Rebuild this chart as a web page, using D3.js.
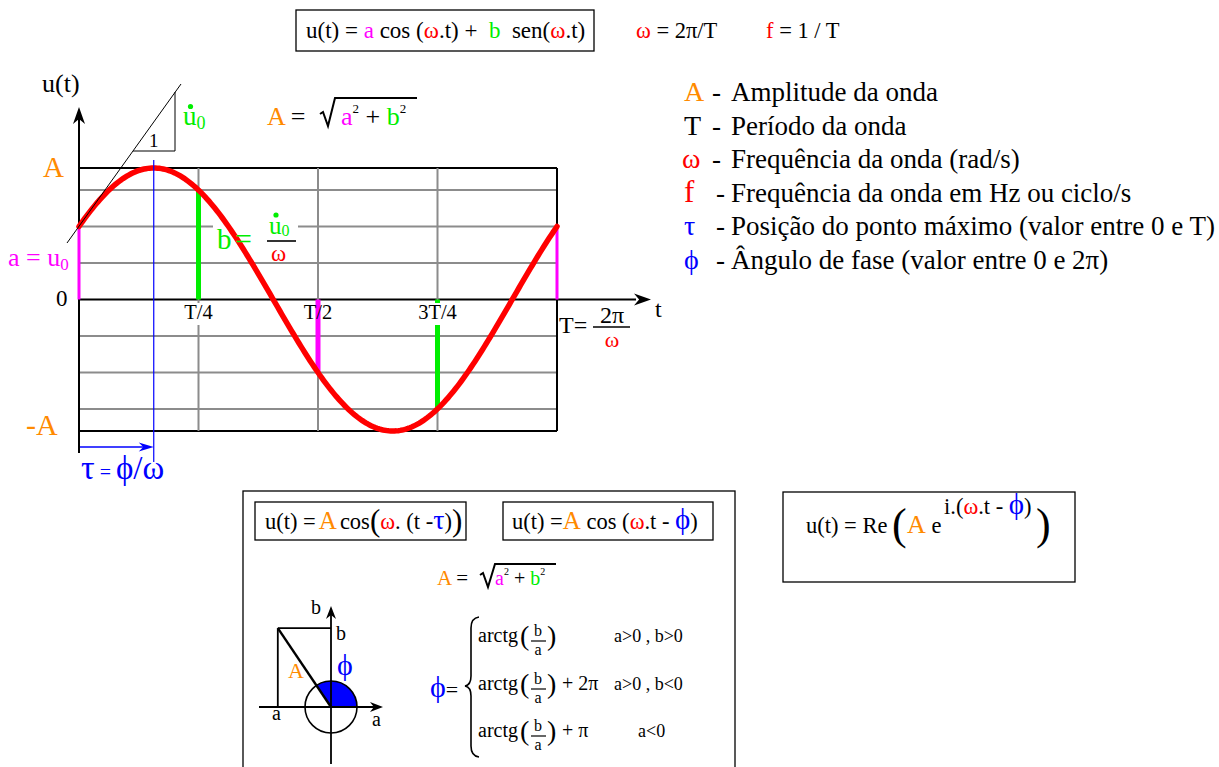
<!DOCTYPE html>
<html><head><meta charset="utf-8">
<script src="https://cdn.jsdelivr.net/npm/d3@7"></script>
<style>
body{margin:0;background:#fff}
svg{display:block}
</style>
</head><body>
<svg id="c" width="1219" height="767" font-family="'Liberation Serif', 'DejaVu Serif', 'Noto Serif', serif"></svg>
<script>
// colours used throughout the sheet
const RED = "#ff0000", BLUE = "#0000ff", ORANGE = "#ff8a00", MAG = "#ff00ff", GREEN = "#00ee00", GRAY = "#8c8c8c";
const SERIF = "'Liberation Serif', 'DejaVu Serif', 'Noto Serif', serif";

// u(t) = a cos(ωt) + b sen(ωt), amplitude normalised to A = 1, time in units of T
const coefA = 0.555;
const coefB = 0.832;
const gridLevels = [1, 0.832, 0.555, 0.277, 0, -0.277, -0.555, -0.832, -1];
const gridTimes = [0, 0.25, 0.5, 0.75, 1];
const tickTimes = [0.25, 0.5, 0.75];
const tickLabels = ["T/4", "T/2", "3T/4"];

// legend
const legendSymbols = ["A", "T", "ω", "f", "τ", "ϕ"];
const legendColors = [ORANGE, "#000", RED, RED, BLUE, BLUE];
const legendTexts = [
  "Amplitude da onda",
  "Período da onda",
  "Frequência da onda (rad/s)",
  "Frequência da onda em Hz ou ciclo/s",
  "Posição do ponto máximo (valor entre 0 e T)",
  "Ângulo de fase (valor entre 0 e 2π)"
];

// phasor sketch: point (a, b) with a < 0
const phasorA = -0.56, phasorB = 0.83;

// arctg cases
const phiAdds = ["", "+ 2π", "+ π"];
const phiConds = ["a>0 , b>0", "a>0 , b<0", "a<0"];

const svg = d3.select("#c");
const x = d3.scaleLinear().domain([0, 1]).range([79, 557]);
const y = d3.scaleLinear().domain([-1, 1]).range([431, 168]);

// ---------- helpers ----------
function rich(px, py, size, parts, anchor) {
  const t = svg.append("text").attr("x", px).attr("y", py).attr("font-size", size)
    .attr("font-family", SERIF).style("white-space", "pre");
  if (anchor) t.attr("text-anchor", anchor);
  let cur = 0;
  parts.forEach(p => {
    const [s, col, sz, shift, dx] = p;
    const ts = t.append("tspan").text(s).attr("fill", col || "#000");
    if (sz) ts.attr("font-size", sz);
    const sh = shift || 0;
    if (sh !== cur) ts.attr("dy", sh - cur);
    cur = sh;
    if (dx) ts.attr("dx", dx);
  });
  return t;
}
function line(x1, y1, x2, y2, col, w) {
  return svg.append("line").attr("x1", x1).attr("y1", y1).attr("x2", x2).attr("y2", y2)
    .attr("stroke", col || "#000").attr("stroke-width", w || 1);
}
// notched arrow head, tip at (tx,ty), pointing along angle (radians)
function arrowHead(tx, ty, ang, len, half, col) {
  const c = Math.cos(ang), s = Math.sin(ang);
  const pt = (u, v) => [tx - u * c - v * (-s), ty - u * s - v * c];
  const p = [pt(0, 0), pt(len, half), pt(len * 0.7, 0), pt(len, -half)];
  svg.append("path").attr("d", "M" + p.map(q => q.join(",")).join("L") + "Z").attr("fill", col || "#000");
}
function sqrtSign(x0, yb, x1, top, col) {
  svg.append("path")
    .attr("d", `M${x0},${yb - 9} L${x0 + 3},${yb - 11} L${x0 + 8},${yb + 3} L${x0 + 15},${top} L${x1},${top}`)
    .attr("fill", "none").attr("stroke", col || "#000").attr("stroke-width", 2);
}
function dot(cx, cy, col) {
  svg.append("circle").attr("cx", cx).attr("cy", cy).attr("r", 2.6).attr("fill", col);
}

// ---------- header formulas ----------
svg.append("rect").attr("x", 296).attr("y", 10).attr("width", 298).attr("height", 41)
  .attr("fill", "none").attr("stroke", "#000").attr("stroke-width", 1.3);
rich(306, 38, 23, [["u(t) = "], ["a", MAG], [" cos ("], ["ω", RED], [".t) +  "], ["b", GREEN], ["  sen("], ["ω", RED], [".t)"]]);
rich(636, 38, 22.5, [["ω", RED], [" = 2π/T"]]);
rich(766, 38, 22.5, [["f", RED], [" = 1 / T"]]);

// ---------- grid ----------
gridLevels.forEach(v => {
  const edge = Math.abs(v) === 1 || v === 0;
  line(x(0), y(v), v === 0 ? 636 : x(1), y(v), edge ? "#000" : GRAY, 2);
});
gridTimes.forEach(t => {
  const edge = t === 0 || t === 1;
  line(x(t), y(1), x(t), y(-1), edge ? "#000" : GRAY, 2);
});

// white patch behind the b = u̇0/ω label
svg.append("rect").attr("x", 213).attr("y", 214).attr("width", 85).attr("height", 44).attr("fill", "#fff");

// y axis with arrow
line(x(0), 453, x(0), 118, "#000", 2);
arrowHead(x(0), 107, -Math.PI / 2, 17, 6);
// t axis arrow
arrowHead(651, y(0), 0, 17, 6);

// ---------- coefficient bars ----------
const bars = [
  { t: 0, v: coefA, c: MAG, w: 3 },
  { t: 0.25, v: coefB, c: GREEN, w: 5 },
  { t: 0.5, v: -coefA, c: MAG, w: 5 },
  { t: 0.75, v: -coefB, c: GREEN, w: 5 },
  { t: 1, v: coefA, c: MAG, w: 3 }
];
bars.forEach(b => line(x(b.t), y(0), x(b.t), y(b.v), b.c, b.w));

// tick labels (white patches for T/4 and 3T/4)
tickTimes.forEach((t, i) => {
  if (i !== 1) {
    svg.append("rect").attr("x", x(t) - (i === 2 ? 23 : 15)).attr("y", 303)
      .attr("width", i === 2 ? 46 : 30).attr("height", 22).attr("fill", "#fff");
  }
  rich(x(t), 319, 20.5, [[tickLabels[i]]], "middle");
});

// ---------- curve ----------
const u = t => coefA * Math.cos(2 * Math.PI * t) + coefB * Math.sin(2 * Math.PI * t);
const ts = d3.range(0, 1.0001, 0.004);
svg.append("path").datum(ts)
  .attr("d", d3.line().x(t => x(t)).y(t => y(u(t))))
  .attr("fill", "none").attr("stroke", RED).attr("stroke-width", 5.5).attr("stroke-linecap", "round");

// position of the maximum τ = ϕ/ω
const tau = Math.atan2(coefB, coefA) / (2 * Math.PI);
line(x(tau), 160, x(tau), 462, BLUE, 1.2);
line(x(0) + 1, 447, x(tau) - 4, 447, BLUE, 1.4);
arrowHead(x(tau), 447, 0, 15, 4.5, BLUE);
rich(81, 479, 34, [["τ", BLUE], [" = ", BLUE, 20], ["ϕ/ω", BLUE, 33]]);

// tangent at t = 0 and slope triangle
line(67, 243, 181, 84, "#000", 1);
line(133, 151, 175, 151, "#000", 1);
line(175, 151, 175, 92, "#000", 1);
rich(149, 147, 19, [["1"]]);
rich(183, 125, 27, [["u", GREEN], ["0", GREEN, 18, 4]]);
dot(190.5, 106.5, GREEN);

// A = √(a² + b²)
rich(267, 125, 26, [["A", ORANGE], [" ="]]);
sqrtSign(320, 123, 417, 98);
rich(341, 125, 26, [["a", MAG], ["2", "#000", 13, -12], [" + ", "#000", 26, 0], ["b", GREEN], ["2", "#000", 13, -12]]);

// b = u̇0 / ω
rich(217, 249, 29, [["b", GREEN]]);
rich(235, 249, 30, [["=", GREEN]]);
line(267, 241, 296, 241, "#000", 1.6);
rich(269, 234, 25, [["u", GREEN], ["0", GREEN, 16, 2]]);
dot(276, 215, GREEN);
rich(271, 261, 23, [["ω", RED]]);

// axis labels
rich(42, 92, 26, [["u(t)"]]);
rich(43, 177, 29, [["A", ORANGE]]);
rich(56, 306, 23, [["0"]]);
rich(26, 435, 30, [["-A", ORANGE]]);
rich(8, 266, 26, [["a = u", MAG], ["0", MAG, 17, 4]]);
rich(655, 317, 24, [["t"]]);
rich(559, 333, 24, [["T="]]);
line(593, 327, 630, 327, "#000", 1.6);
rich(612, 323, 24, [["2π"]], "middle");
rich(612, 347, 22, [["ω", RED]], "middle");

// ---------- legend ----------
legendSymbols.forEach((s, i) => {
  const yb = 101 + i * 33.6;
  rich(s === "ω" ? 682 : 684, yb, s === "f" ? 31 : 28, [[s, legendColors[i]]]);
  rich(s === "A" || s === "T" || s === "ω" ? 712 : 716, yb, 27, [["-"]]);
  rich(731, yb, 27, [[legendTexts[i]]]);
});

// ---------- lower frame ----------
svg.append("rect").attr("x", 243).attr("y", 491).attr("width", 492).attr("height", 300)
  .attr("fill", "none").attr("stroke", "#000").attr("stroke-width", 1.3);
svg.append("rect").attr("x", 255).attr("y", 502).attr("width", 211).attr("height", 38)
  .attr("fill", "none").attr("stroke", "#000").attr("stroke-width", 1.3);
svg.append("rect").attr("x", 503).attr("y", 502).attr("width", 210).attr("height", 38)
  .attr("fill", "none").attr("stroke", "#000").attr("stroke-width", 1.3);
rich(265, 529, 22.5, [["u(t) ="], ["A", ORANGE, 25, 0, 3], ["cos", "#000", 22.5, 0, 3], ["(", "#000", 31, 2], ["ω", RED, 22.5, 0], [". (t -"], ["τ", BLUE, 28], [")", "#000", 22.5], [")", "#000", 31, 2]]);
rich(512, 529, 22.5, [["u(t) ="], ["A", ORANGE, 25], [" cos (", "#000", 22.5], ["ω", RED], [".t - "], ["ϕ", BLUE, 29], [")", "#000", 22.5]]);

// A = √(a² + b²) (small)
rich(437, 585, 21, [["A", ORANGE], [" ="]]);
sqrtSign(480, 584, 556, 564);
rich(495, 585, 20, [["a", MAG], ["2", "#000", 10, -10], [" + ", "#000", 20, 0], ["b", GREEN], ["2", "#000", 10, -10]]);

// phasor sketch
const O = [331, 707], pr = 95;
const P = [O[0] + phasorA * pr, O[1] - phasorB * pr];
const phi = Math.atan2(phasorB, phasorA);
svg.append("path")
  .attr("d", d3.arc().innerRadius(0).outerRadius(26).startAngle(Math.PI / 2 - phi).endAngle(Math.PI / 2)())
  .attr("transform", `translate(${O})`).attr("fill", BLUE);
svg.append("circle").attr("cx", O[0]).attr("cy", O[1]).attr("r", 26)
  .attr("fill", "none").attr("stroke", "#000").attr("stroke-width", 1.6);
line(O[0], 764, O[0], 615, "#000", 1.8);
arrowHead(O[0], 606, -Math.PI / 2, 13, 5);
line(259, O[1], 374, O[1], "#000", 1.8);
arrowHead(383, O[1], 0, 13, 5);
line(P[0], P[1], O[0], P[1], "#000", 1.8);
line(P[0], P[1], P[0], O[1], "#000", 1.8);
line(P[0], P[1], O[0], O[1], "#000", 2.4);
rich(311, 614, 20, [["b"]]);
rich(336, 640, 20, [["b"]]);
rich(337, 675, 30, [["ϕ", BLUE]]);
rich(288, 678, 22, [["A", ORANGE]]);
rich(272, 720, 20, [["a"]]);
rich(372, 726, 20, [["a"]]);

// ϕ = { arctg cases
rich(430, 697, 30, [["ϕ", BLUE], ["=", "#000", 22]]);
svg.append("path")
  .attr("d", "M479,617 Q471,618 471,628 L471,676 Q471,685 465,686 Q471,687 471,696 L471,746 Q471,756 479,757")
  .attr("fill", "none").attr("stroke", "#000").attr("stroke-width", 1.6);
[642, 690, 737].forEach((yb, i) => {
  rich(478, yb, 20, [["arctg"]]);
  rich(520, yb + 3, 28, [["("]]);
  rich(538, yb - 6, 16, [["b"]], "middle");
  line(531, yb - 1, 546, yb - 1, "#000", 1.2);
  rich(538, yb + 13, 16, [["a"]], "middle");
  rich(547, yb + 3, 28, [[")"]]);
  if (phiAdds[i]) rich(562, yb, 20, [[phiAdds[i]]]);
  rich(i === 2 ? 638 : 614, yb, 18, [[phiConds[i]]]);
});

// ---------- complex form ----------
svg.append("rect").attr("x", 783).attr("y", 492).attr("width", 292).attr("height", 90)
  .attr("fill", "none").attr("stroke", "#000").attr("stroke-width", 1.3);
rich(806, 533, 22.5, [["u(t) = Re"]]);
rich(892, 539, 44, [["("]]);
rich(907, 533, 26, [["A", ORANGE], [" e", "#000", 22.5]]);
rich(944, 514, 22.5, [["i.("], ["ω", RED], [".t - "], ["ϕ", BLUE, 29], [")", "#000", 22.5]]);
rich(1036, 539, 44, [[")"]]);
</script>
</body></html>
